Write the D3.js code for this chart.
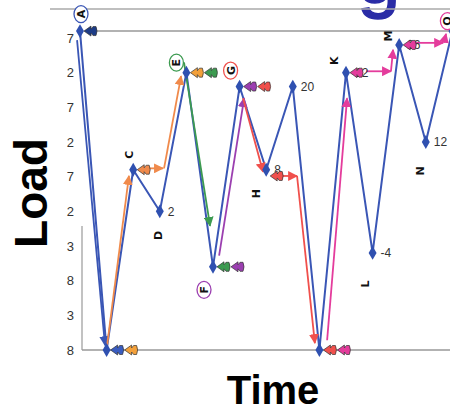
<!DOCTYPE html>
<html><head><meta charset="utf-8">
<script src="https://cdn.jsdelivr.net/npm/d3@7"></script>
<style>html,body{margin:0;padding:0;background:#fff;overflow:hidden}svg{display:block}</style>
</head><body>
<svg id="c" width="450" height="409"></svg>
<script>
// ---- data ----
const pointNames = ["A","B","C","D","E","F","G","H","I","J","K","L","M","N","O"];
const loads      = [28,-18,8,2,22,-6,20,8,20,-18,22,-4,26,12,28];
const valueLabels = {3:"2",7:"8",8:"20",10:"12",11:"-4",12:"26",13:"12"};
const tickValues = [27,22,17,12,7,2,-3,-8,-13,-18];
const tickLabels = ["7","2","7","2","7","2","3","8","3","8"];
// rain-flow paths: segments in (index, load) space, each ends in an arrow
const flowBlue    = [[[-0.11,26.7],[0.94,-17.3]]];
const flowOrange  = [[[1.02,-17.3],[1.84,7.1]],[[2.63,8.2],[3.12,8.2]],[[3.16,8.2],[3.80,21.5]]];
const flowGreen   = [[[3.91,23.5],[4.89,-0.1]]];
const flowPurple  = [[[5.23,-4.4],[6.17,18.3]]];
const flowRed     = [[[6.13,18.3],[6.88,7.7]],[[7.63,7.1],[8.16,7.1]],[[8.16,7.1],[8.83,-17.0]]];
const flowMagenta = [[[9.29,-16.6],[10.04,18.3]],[[10.75,22.2],[11.69,22.2]],[[11.69,22.2],[11.77,25.3]],[[12.56,26.3],[13.65,26.3]],[[13.68,26.3],[13.76,27.6]]];
// flags (small pennants) next to points: anchor index, load, colours
const flags = [
  {i:0, v:28, c:["#1d3c86"]},
  {i:1, v:-18, c:["#3a5cc0","#f3a03a"]},
  {i:2, v:8, c:["#f08a4b"]},
  {i:4, v:22, c:["#f3a03a","#3c9a50"]},
  {i:5, v:-6, c:["#3c9a50","#9b3fb0"]},
  {i:6, v:20, c:["#9b3fb0","#f0504c"]},
  {i:7, v:7.1, c:["#f0504c"]},
  {i:9, v:-18, c:["#f0504c","#e43c9c"]},
  {i:10, v:22, c:["#e43c9c"]},
  {i:12, v:26, c:["#e43c9c"]}
];
const circled = {A:"#3a56b5",E:"#3c9a50",F:"#9b3fb0",G:"#f0504c",O:"#e43c9c"};

// ---- layout ----
const svg = d3.select("#c");
const x = d3.scaleLinear().domain([0,14]).range([80,452.4]);
const y = d3.scaleLinear().domain([27,-18]).range([38,350]);
const BLUE = "#3a56b5";

// defs: arrowheads
const defs = svg.append("defs");
function marker(id,col){
  defs.append("marker").attr("id",id).attr("viewBox","0 0 10 10").attr("refX",9).attr("refY",5)
    .attr("markerWidth",5.5).attr("markerHeight",5.5).attr("orient","auto-start-reverse")
    .append("path").attr("d","M0,0L10,5L0,10Z").attr("fill",col);
}
const flowSets = [[flowBlue,BLUE,"mb"],[flowOrange,"#f08a4b","mo"],[flowGreen,"#3c9a50","mg"],
  [flowPurple,"#9b3fb0","mp"],[flowRed,"#f0504c","mr"],[flowMagenta,"#e43c9c","mm"]];
flowSets.forEach(f=>marker(f[2],f[1]));

// title fragment at top
svg.append("text").attr("x",357).attr("y",-1).attr("font-family","Liberation Sans, Arial, sans-serif")
  .attr("font-size",78).attr("fill","#2a2ca6").attr("stroke","#2a2ca6").attr("stroke-width",1.5).text("g")
  .attr("transform","translate(0,4)");

// frame lines
svg.append("line").attr("x1",50).attr("x2",450).attr("y1",9).attr("y2",9).attr("stroke","#aaa").attr("stroke-width",1.5);
svg.append("line").attr("x1",97).attr("x2",450).attr("y1",y(28)).attr("y2",y(28)).attr("stroke","#999").attr("stroke-width",1.5);
svg.append("line").attr("x1",82).attr("x2",450).attr("y1",y(-18)).attr("y2",y(-18)).attr("stroke","#999").attr("stroke-width",1.5);
svg.append("line").attr("x1",82).attr("x2",82).attr("y1",226).attr("y2",y(-18)).attr("stroke","#999").attr("stroke-width",1.2);

// y tick labels
const ax = d3.axisLeft(y).tickValues(tickValues).tickSize(0).tickPadding(0)
  .tickFormat((d,i)=>tickLabels[i]);
const gAx = svg.append("g").attr("transform","translate(74,0)").call(ax);
gAx.select(".domain").remove();
gAx.selectAll("text").attr("font-family","Liberation Sans, Arial, sans-serif").attr("font-size",13).attr("fill","#333");

// axis titles
svg.append("text").attr("transform","translate(47,193) rotate(-90)").attr("text-anchor","middle")
  .attr("font-family","Liberation Sans, Arial, sans-serif").attr("font-weight","bold").attr("font-size",46).text("Load");
svg.append("text").attr("x",273).attr("y",404).attr("text-anchor","middle")
  .attr("font-family","Liberation Sans, Arial, sans-serif").attr("font-weight","bold").attr("font-size",40).text("Time");

// main load history
const pts = loads.map((v,i)=>[i,v]);
const line = d3.line().x(d=>x(d[0])).y(d=>y(d[1]));
svg.append("path").attr("d",line(pts)).attr("fill","none").attr("stroke",BLUE).attr("stroke-width",2).attr("stroke-linejoin","round");

// flows
flowSets.forEach(([segs,col,id])=>{
  segs.forEach(s=>{
    svg.append("path").attr("d",line(s)).attr("fill","none").attr("stroke",col).attr("stroke-width",1.8)
      .attr("marker-end",`url(#${id})`);
  });
});

// diamonds
svg.selectAll("path.pt").data(pts).join("path").attr("class","pt")
  .attr("transform",d=>`translate(${x(d[0])},${y(d[1])})`)
  .attr("d",d3.symbol(d3.symbolDiamond,55)).attr("fill","#2f50b0");

// value labels
Object.entries(valueLabels).forEach(([i,t])=>{
  i=+i;
  svg.append("text").attr("x",x(i)+(i===10?9:8)).attr("y",y(loads[i])).attr("dy","0.36em")
    .attr("font-family","Liberation Sans, Arial, sans-serif").attr("font-size",12).attr("fill","#333").text(t);
});

// flags
const flagPath = "M0,0L7,-5L7,-2L9,-4.5L12,-4.5Q14,0 12,4.5L9,4.5L7,2L7,5Z";
flags.forEach(f=>{
  f.c.forEach((col,k)=>{
    svg.append("path").attr("d",flagPath)
      .attr("transform",`translate(${x(f.i)+4+k*14},${y(f.v)})`)
      .attr("fill",col).attr("stroke","#333").attr("stroke-width",0.7);
  });
});

// point letters (rotated)
const letterOff = {A:[1,-17],C:[-4,-15],D:[-2,24],E:[-10,-10],F:[-9,23],G:[-9,-16],H:[-10,24],
  K:[-12,-12],L:[-8,31],M:[-11,-9],N:[-6,29],O:[-5,-10]};
Object.entries(letterOff).forEach(([n,o])=>{
  const i = pointNames.indexOf(n);
  const cx = x(i)+o[0], cy = y(loads[i])+o[1];
  if(circled[n]) svg.append("ellipse").attr("cx",cx).attr("cy",cy).attr("rx",7).attr("ry",8.5)
    .attr("fill","#fff").attr("stroke",circled[n]).attr("stroke-width",1.3);
  svg.append("text").attr("transform",`translate(${cx},${cy}) rotate(-90)`).attr("text-anchor","middle")
    .attr("dy","0.36em").attr("font-family","DejaVu Sans, sans-serif").attr("font-weight","bold")
    .attr("font-size",11).attr("fill","#111").text(n);
});
</script>
</body></html>
